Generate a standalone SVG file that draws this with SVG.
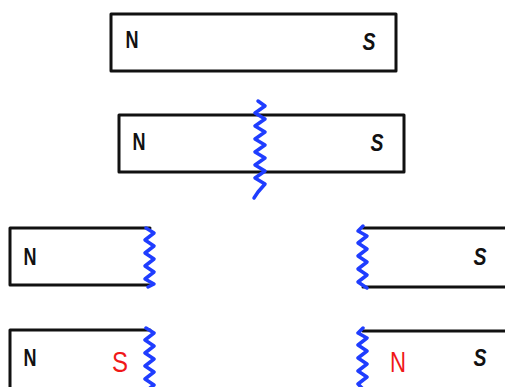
<svg xmlns="http://www.w3.org/2000/svg" width="505" height="387" viewBox="0 0 505 387">
<style>
.bar{fill:none;stroke:#111;stroke-width:3;stroke-linejoin:round;stroke-linecap:round}
.cut{fill:none;stroke:#1f3dff;stroke-width:3.5;stroke-linejoin:round;stroke-linecap:round}
.lbl{font-family:"Liberation Sans",Arial,sans-serif;font-weight:bold;font-size:24px;fill:#111;text-anchor:middle}
.sl{font-style:italic}
.red{font-family:"Liberation Sans",Arial,sans-serif;font-size:30px;fill:#f01818;text-anchor:middle}
</style>
<rect width="505" height="387" fill="#fff"/>
<g id="magnet1">
<rect class="bar" x="111" y="14" width="285" height="57"/>
<text class="lbl" x="132" y="48" textLength="13" lengthAdjust="spacingAndGlyphs">N</text>
<text class="lbl sl" x="369" y="50" textLength="13" lengthAdjust="spacingAndGlyphs">S</text>
</g>
<g id="magnet2">
<rect class="bar" x="119" y="115" width="285" height="57"/>
<text class="lbl" x="139" y="150" textLength="13" lengthAdjust="spacingAndGlyphs">N</text>
<text class="lbl sl" x="377" y="151" textLength="13" lengthAdjust="spacingAndGlyphs">S</text>
</g>
<g id="magnet3-left">
<path class="bar" d="M150,228 L10,228 L10,285 L150,285"/>
<text class="lbl" x="30" y="265" textLength="13" lengthAdjust="spacingAndGlyphs">N</text>
</g>
<g id="magnet3-right">
<path class="bar" d="M363,228 L505,228 M363,287 L505,287"/>
<text class="lbl sl" x="480" y="265" textLength="13" lengthAdjust="spacingAndGlyphs">S</text>
</g>
<g id="magnet4-left">
<path class="bar" d="M150,330 L10,330 L10,387"/>
<text class="lbl" x="30" y="366" textLength="13" lengthAdjust="spacingAndGlyphs">N</text>
<text class="red" x="120" y="372" textLength="16" lengthAdjust="spacingAndGlyphs">S</text>
</g>
<g id="magnet4-right">
<path class="bar" d="M363,331 L505,331"/>
<text class="red" x="398" y="372" textLength="16" lengthAdjust="spacingAndGlyphs">N</text>
<text class="lbl sl" x="480" y="366" textLength="13" lengthAdjust="spacingAndGlyphs">S</text>
</g>
<g id="cuts">
<polyline class="cut" points="258,101 265,106 255,113 265,119 255,126 265,132 255,139 265,145 255,152 265,158 255,165 265,171 255,178 265,184 258,192 254,198"/>
<polyline class="cut" points="146,228 154,233 145,240 154,246 145,253 154,259 145,266 154,272 145,279 154,284 148,287"/>
<polyline class="cut" points="363,226 358,231 367,236 358,243 367,249 358,256 367,262 358,269 367,275 358,282 367,288"/>
<polyline class="cut" points="146,328 154,333 145,340 154,346 145,353 154,359 145,366 154,372 145,379 154,385 150,388"/>
<polyline class="cut" points="363,328 358,333 367,338 358,345 367,351 358,358 367,364 358,371 367,377 358,384 362,388"/>
</g>
</svg>
